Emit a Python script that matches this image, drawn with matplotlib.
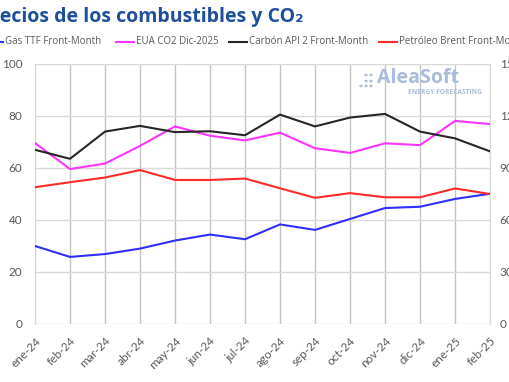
import matplotlib
matplotlib.use("Agg")
import matplotlib.pyplot as plt
from matplotlib.lines import Line2D
from matplotlib.patches import Circle

months = ["ene-24", "feb-24", "mar-24", "abr-24", "may-24", "jun-24", "jul-24",
          "ago-24", "sep-24", "oct-24", "nov-24", "dic-24", "ene-25", "feb-25"]

gas_ttf = [30.0, 25.8, 26.9, 29.0, 32.1, 34.4, 32.6, 38.3, 36.2, 40.4, 44.6, 45.1, 48.1, 50.1]
eua_co2 = [69.6, 59.6, 61.7, 68.5, 76.0, 72.4, 70.6, 73.6, 67.6, 65.8, 69.5, 68.8, 78.1, 76.9]
carbon_api2 = [100.5, 95.3, 111.0, 114.3, 110.7, 111.2, 108.9, 120.8, 114.0, 119.1, 121.2, 111.0, 107.1, 99.6]
brent = [78.9, 81.8, 84.5, 88.8, 83.1, 83.1, 83.9, 78.3, 72.8, 75.5, 73.1, 73.1, 78.2, 75.0]

series_names = ["Gas TTF Front-Month", "EUA CO2 Dic-2025", "Carbón API 2 Front-Month", "Petróleo Brent Front-Month"]
colors = ["#2f2fff", "#ff33ff", "#262626", "#ff2a2a"]

left_ticks = [0, 20, 40, 60, 80, 100]
right_ticks = [0, 30, 60, 90, 120, 150]

W, H = 510, 382
fig = plt.figure(figsize=(W / 100, H / 100), dpi=100)
fig.patch.set_facecolor("white")

ax = fig.add_axes([35 / W, 1 - 324 / H, (490 - 35) / W, (324 - 64) / H])
ax2 = ax.twinx()

x = list(range(len(months)))
lw = 1.5
ax.plot(x, gas_ttf, color=colors[0], lw=lw, zorder=3)
ax.plot(x, eua_co2, color=colors[1], lw=lw, zorder=3)
ax2.plot(x, carbon_api2, color=colors[2], lw=lw, zorder=3)
ax2.plot(x, brent, color=colors[3], lw=lw, zorder=3)

ax.set_xlim(0, len(months) - 1)
ax.set_ylim(0, 100)
ax2.set_ylim(0, 150)
ax.set_yticks(left_ticks)
ax2.set_yticks(right_ticks)
ax.set_xticks(x)

tick_font = dict(family=["Lato", "DejaVu Sans"], size=8.5, color="#595959")
ax.set_yticklabels([str(t) for t in left_ticks], **tick_font)
ax2.set_yticklabels([str(t) for t in right_ticks], **tick_font)
ax.set_xticklabels(months, rotation=45, ha="right", rotation_mode="anchor", **tick_font)

ax.tick_params(axis="y", length=0, pad=9)
ax2.tick_params(axis="y", length=0, pad=7)
ax.tick_params(axis="x", length=0, pad=8)

ax.grid(axis="y", color="#d9d9d9", lw=1.0, zorder=0)
ax.grid(axis="x", color="#c4c4c4", lw=1.0, zorder=0)
ax.set_axisbelow(True)
for a in (ax, ax2):
    for s in a.spines.values():
        s.set_visible(False)
ax.spines["left"].set_visible(True)
ax.spines["left"].set_color("#d9d9d9")
ax.spines["right"].set_visible(True)
ax.spines["right"].set_color("#d9d9d9")

# Title (partially cropped on the left like the reference)
title = "Precios de los combustibles y CO₂"
title_kw = dict(family=["Open Sans", "DejaVu Sans"], size=14, weight="bold", color="#1e4f9c")
renderer = fig.canvas.get_renderer()
probe = fig.text(0, 0, "Pr", **title_kw)
pr_w = probe.get_window_extent(renderer).width
probe.remove()
fig.text(-pr_w / W, 1 - 17 / H, title, va="center", ha="left", **title_kw)

# Legend drawn manually
leg_y = 1 - 42 / H
leg_font = dict(family=["Open Sans", "DejaVu Sans"], size=7, color="#595959")
line_starts = [-15, 116, 229, 379]
seg = 18
for name, c, xs in zip(series_names, colors, line_starts):
    fig.add_artist(Line2D([xs / W, (xs + seg) / W], [leg_y, leg_y], color=c, lw=1.5))
    fig.text((xs + seg + 2) / W, leg_y, name, va="center", ha="left", **leg_font)

# Watermark logo
logo_color = "#a9bcda"
fig.text(377 / W, 1 - 78 / H, "AleaSoft", family=["Open Sans", "DejaVu Sans"], size=14,
         weight="bold", color=logo_color, va="center", ha="left")
fig.text(482 / W, 1 - 92 / H, "ENERGY FORECASTING", family=["Open Sans", "DejaVu Sans"], size=4.8,
         weight="bold", color=logo_color, va="center", ha="right")
dots = [(361, 86), (366, 86), (371, 86), (366, 81), (371, 81), (371, 75), (366, 75)]
for dx, dy in dots:
    fig.add_artist(Circle((dx / W, 1 - dy / H), 1.7 / W, transform=fig.transFigure,
                          color=logo_color, lw=0))

fig.savefig("out.png", dpi=100)
